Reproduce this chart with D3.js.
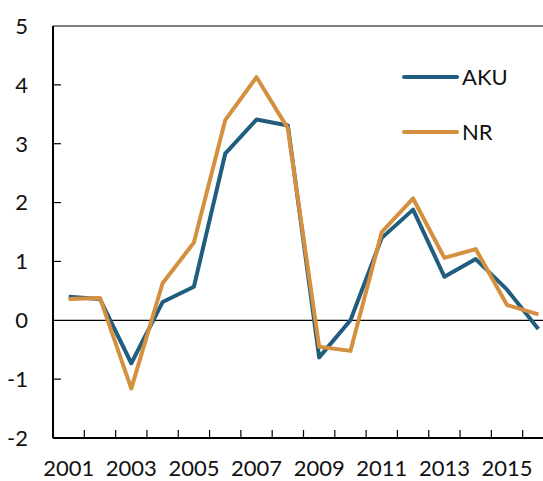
<!DOCTYPE html>
<html>
<head>
<meta charset="utf-8">
<script src="https://cdn.jsdelivr.net/npm/d3@7"></script>
<style>
  body { margin: 0; background: #fff; }
  text { font-family: Lato, "Open Sans", sans-serif; fill: #111; }
</style>
</head>
<body>
<svg width="543" height="481"></svg>
<script>
var years = [2001, 2002, 2003, 2004, 2005, 2006, 2007, 2008, 2009, 2010, 2011, 2012, 2013, 2014, 2015, 2016];
var aku = [0.40, 0.36, -0.73, 0.31, 0.57, 2.83, 3.41, 3.31, -0.63, 0.0, 1.40, 1.88, 0.74, 1.04, 0.52, -0.15];
var nr = [0.36, 0.38, -1.16, 0.63, 1.32, 3.40, 4.13, 3.26, -0.45, -0.52, 1.50, 2.07, 1.06, 1.21, 0.26, 0.10];
var yTicks = [-2, -1, 0, 1, 2, 3, 4, 5];
var xLabels = [2001, 2003, 2005, 2007, 2009, 2011, 2013, 2015];

var svg = d3.select("svg");
var plotLeft = 53, plotTop = 26, plotBottom = 438, plotRight = 554;
var fontSize = 22;

var x = d3.scaleBand().domain(years).range([plotLeft, plotRight]);
var y = d3.scaleLinear().domain([-2, 5]).range([plotBottom, plotTop]);

// frame top line
svg.append("line")
  .attr("x1", plotLeft).attr("x2", 543)
  .attr("y1", plotTop).attr("y2", plotTop)
  .attr("stroke", "#000").attr("stroke-width", 1.2);

// zero line
svg.append("line")
  .attr("x1", plotLeft).attr("x2", 543)
  .attr("y1", y(0)).attr("y2", y(0))
  .attr("stroke", "#000").attr("stroke-width", 1.2);

// y ticks
svg.selectAll(".ytick")
  .data(yTicks.filter(function(d) { return d != 5 && d != 0 && d != -2; }))
  .enter().append("line")
  .attr("x1", plotLeft).attr("x2", plotLeft + 8)
  .attr("y1", function(d) { return y(d); })
  .attr("y2", function(d) { return y(d); })
  .attr("stroke", "#000").attr("stroke-width", 1.2);

svg.selectAll(".ylab")
  .data(yTicks)
  .enter().append("text")
  .attr("x", 28)
  .attr("y", function(d) { return y(d); })
  .attr("dy", "0.36em")
  .attr("text-anchor", "end")
  .attr("font-size", fontSize)
  .text(function(d) { return d; });

// x ticks at band boundaries
svg.selectAll(".xtick")
  .data(years.slice(1))
  .enter().append("line")
  .attr("x1", function(d) { return x(d); })
  .attr("x2", function(d) { return x(d); })
  .attr("y1", plotBottom).attr("y2", plotBottom - 8)
  .attr("stroke", "#000").attr("stroke-width", 1.2);

svg.selectAll(".xlab")
  .data(xLabels)
  .enter().append("text")
  .attr("x", function(d) { return x(d) + x.bandwidth() / 2; })
  .attr("y", 476)
  .attr("text-anchor", "middle")
  .attr("font-size", fontSize)
  .text(function(d) { return d; });

// axes lines
svg.append("line")
  .attr("x1", plotLeft).attr("x2", plotLeft)
  .attr("y1", plotTop).attr("y2", plotBottom)
  .attr("stroke", "#000").attr("stroke-width", 2);
svg.append("line")
  .attr("x1", plotLeft).attr("x2", 543)
  .attr("y1", plotBottom).attr("y2", plotBottom)
  .attr("stroke", "#000").attr("stroke-width", 2);

var line = d3.line()
  .x(function(d, i) { return x(years[i]) + x.bandwidth() / 2; })
  .y(function(d) { return y(d); });

var series = [
  { name: "AKU", values: aku, color: "#215d7e" },
  { name: "NR", values: nr, color: "#d4903f" }
];

series.forEach(function(s) {
  svg.append("path").datum(s.values)
    .attr("d", line).attr("fill", "none")
    .attr("stroke", s.color).attr("stroke-width", 4)
    .attr("stroke-linejoin", "round");
});

// legend
var legY = [77, 132];
series.forEach(function(s, i) {
  svg.append("line")
    .attr("x1", 404).attr("x2", 457)
    .attr("y1", legY[i]).attr("y2", legY[i])
    .attr("stroke", s.color).attr("stroke-width", 4)
    .attr("stroke-linecap", "round");
  svg.append("text")
    .attr("x", 462).attr("y", legY[i])
    .attr("dy", "0.36em")
    .attr("font-size", fontSize)
    .text(s.name);
});
</script>
</body>
</html>
